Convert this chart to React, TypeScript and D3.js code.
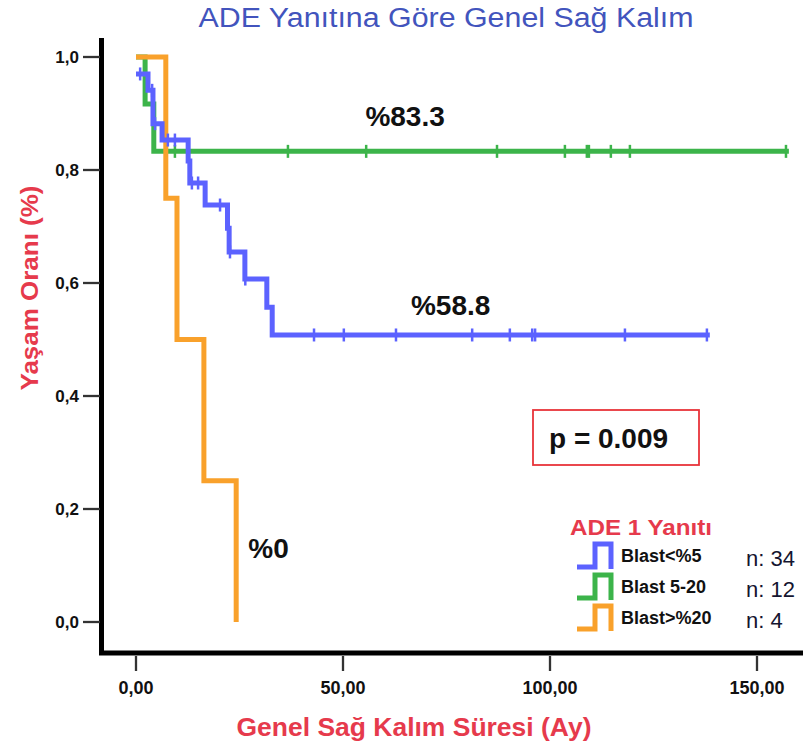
import React from "react";
import * as d3 from "d3";

// ---------- data ----------
const xTicks = [0, 50, 100, 150];
const xTickLabels = ["0,00", "50,00", "100,00", "150,00"];
const yTicks = [0, 0.2, 0.4, 0.6, 0.8, 1.0];
const yTickLabels = ["0,0", "0,2", "0,4", "0,6", "0,8", "1,0"];

// Blast<%5 (n=34)
const blueTimes = [0, 2.9, 4.1, 6.3, 12.6, 13.0, 16.7, 22.1, 22.5, 26.3, 31.6, 32.9];
const blueSurv = [0.97, 0.941, 0.882, 0.853, 0.816, 0.777, 0.738, 0.697, 0.655, 0.607, 0.557, 0.508];
const blueEnd = 138.6;
const blueCensor = [1.0, 3.9, 4.6, 7.7, 9.4, 13.5, 15.0, 20.3, 22.3, 22.7, 26.4, 43.0, 50.2, 62.8, 81.2, 90.3, 95.7, 96.4, 118.1, 137.9];

// Blast 5-20 (n=12)
const greenTimes = [0, 2.2, 4.3];
const greenSurv = [1.0, 0.917, 0.833];
const greenEnd = 157.7;
const greenCensor = [9.4, 36.7, 55.6, 87.2, 103.6, 108.9, 109.4, 114.7, 119.3, 157.0];

// Blast>%20 (n=4)
const orangeTimes = [0, 7.2, 9.9, 16.4, 24.2];
const orangeSurv = [1.0, 0.75, 0.5, 0.25, 0.0];
const orangeEnd = 24.2;
const orangeCensor: number[] = [];

const legendNames = ["Blast<%5", "Blast 5-20", "Blast>%20"];
const legendCounts = ["n: 34", "n: 12", "n: 4"];
const seriesColors = ["#5c62ff", "#3cb44a", "#f9a12b"];

const curveLabels = ["%83.3", "%58.8", "%0"];
const curveLabelPos = [
  [65, 0.895],
  [76, 0.56],
  [32, 0.13],
];

// ---------- layout ----------
const W = 803;
const H = 747;
const FONT = "'Liberation Sans', Arial, sans-serif";

const x = d3.scaleLinear().domain([0, 150]).range([136, 757]);
const y = d3.scaleLinear().domain([0, 1]).range([622, 57]);

function stepPath(times: number[], surv: number[], end: number) {
  const pts: [number, number][] = times.map((t, i) => [t, surv[i]]);
  pts.push([end, surv[surv.length - 1]]);
  const line = d3
    .line<[number, number]>()
    .x((d) => x(d[0]))
    .y((d) => y(d[1]))
    .curve(d3.curveStepAfter);
  return line(pts) || "";
}

function levelAt(times: number[], surv: number[], t: number) {
  let s = surv[0];
  for (let i = 0; i < times.length; i++) if (times[i] <= t) s = surv[i];
  return s;
}

const series = [
  { times: blueTimes, surv: blueSurv, end: blueEnd, censor: blueCensor, color: seriesColors[0] },
  { times: greenTimes, surv: greenSurv, end: greenEnd, censor: greenCensor, color: seriesColors[1] },
  { times: orangeTimes, surv: orangeSurv, end: orangeEnd, censor: orangeCensor, color: seriesColors[2] },
];
const drawOrder = [1, 2, 0];

export default function App() {
  return (
    <svg
      width={W}
      height={H}
      style={{ position: "absolute", left: 0, top: 0, background: "#ffffff" }}
      fontFamily={FONT}
    >
      <rect x={0} y={0} width={W} height={H} fill="#ffffff" />
      {/* title */}
      <text x={446} y={27} textAnchor="middle" fontSize={27} fill="#4254bd" textLength={495} lengthAdjust="spacingAndGlyphs">
        ADE Yanıtına Göre Genel Sağ Kalım
      </text>

      {/* axes */}
      <line x1={101.5} x2={101.5} y1={38} y2={655} stroke="#000" strokeWidth={5} />
      <line x1={99} x2={803} y1={653} y2={653} stroke="#000" strokeWidth={5} />

      {yTicks.map((v, i) => (
        <g key={"yt" + i}>
          <line x1={83} x2={100} y1={y(v)} y2={y(v)} stroke="#333" strokeWidth={2.3} />
          <text x={79} y={y(v)} dy="0.35em" textAnchor="end" fontSize={17} fontWeight="bold" fill="#111">
            {yTickLabels[i]}
          </text>
        </g>
      ))}
      {xTicks.map((v, i) => (
        <g key={"xt" + i}>
          <line x1={x(v)} x2={x(v)} y1={656} y2={671} stroke="#333" strokeWidth={2.3} />
          <text x={x(v)} y={688} dy="0.35em" textAnchor="middle" fontSize={18} fontWeight="bold" fill="#111">
            {xTickLabels[i]}
          </text>
        </g>
      ))}

      {/* axis titles */}
      <text
        transform="translate(30,288) rotate(-90)"
        textAnchor="middle"
        dy="0.35em"
        fontSize={23}
        fontWeight="bold"
        fill="#e63a4c"
        textLength={205}
        lengthAdjust="spacingAndGlyphs"
      >
        Yaşam Oranı (%)
      </text>
      <text x={414} y={736} textAnchor="middle" fontSize={26} fontWeight="bold" fill="#e63a4c" textLength={355} lengthAdjust="spacingAndGlyphs">
        Genel Sağ Kalım Süresi (Ay)
      </text>

      {/* curves */}
      {drawOrder.map((k) => {
        const s = series[k];
        return (
          <g key={"s" + k}>
            <path d={stepPath(s.times, s.surv, s.end)} fill="none" stroke={s.color} strokeWidth={5} />
            {s.censor.map((t, j) => {
              const cx = x(t);
              const cy = y(levelAt(s.times, s.surv, t));
              return <line key={j} x1={cx} x2={cx} y1={cy - 6.5} y2={cy + 6.5} stroke={s.color} strokeWidth={2.5} />;
            })}
          </g>
        );
      })}

      {/* curve labels */}
      {curveLabels.map((lab, i) => (
        <text
          key={"cl" + i}
          x={x(curveLabelPos[i][0])}
          y={y(curveLabelPos[i][1])}
          dy="0.35em"
          textAnchor="middle"
          fontSize={28}
          fontWeight="bold"
          fill="#111"
        >
          {lab}
        </text>
      ))}

      {/* p value box */}
      <rect x={533} y={410} width={166} height={55} fill="#fff" stroke="#e8343a" strokeWidth={1.8} />
      <text x={549} y={438} dy="0.35em" fontSize={28} fontWeight="bold" fill="#111">
        p = 0.009
      </text>

      {/* legend */}
      <text x={570} y={527} dy="0.35em" fontSize={22} fontWeight="bold" fill="#e63a4c" textLength={142} lengthAdjust="spacingAndGlyphs">
        ADE 1 Yanıtı
      </text>
      {legendNames.map((nm, i) => {
        const cy = 556 + i * 31;
        const c = seriesColors[i];
        return (
          <g key={"lg" + i}>
            <path
              d={`M577,${cy + 11} H595 V${cy - 12} H611 V${cy + 13}`}
              fill="none"
              stroke={c}
              strokeWidth={5}
            />
            <text x={621} y={cy} dy="0.35em" fontSize={18} fontWeight="bold" fill="#111">
              {nm}
            </text>
            <text x={746} y={cy + 2} dy="0.35em" fontSize={22} fill="#151530">
              {legendCounts[i]}
            </text>
          </g>
        );
      })}
    </svg>
  );
}
